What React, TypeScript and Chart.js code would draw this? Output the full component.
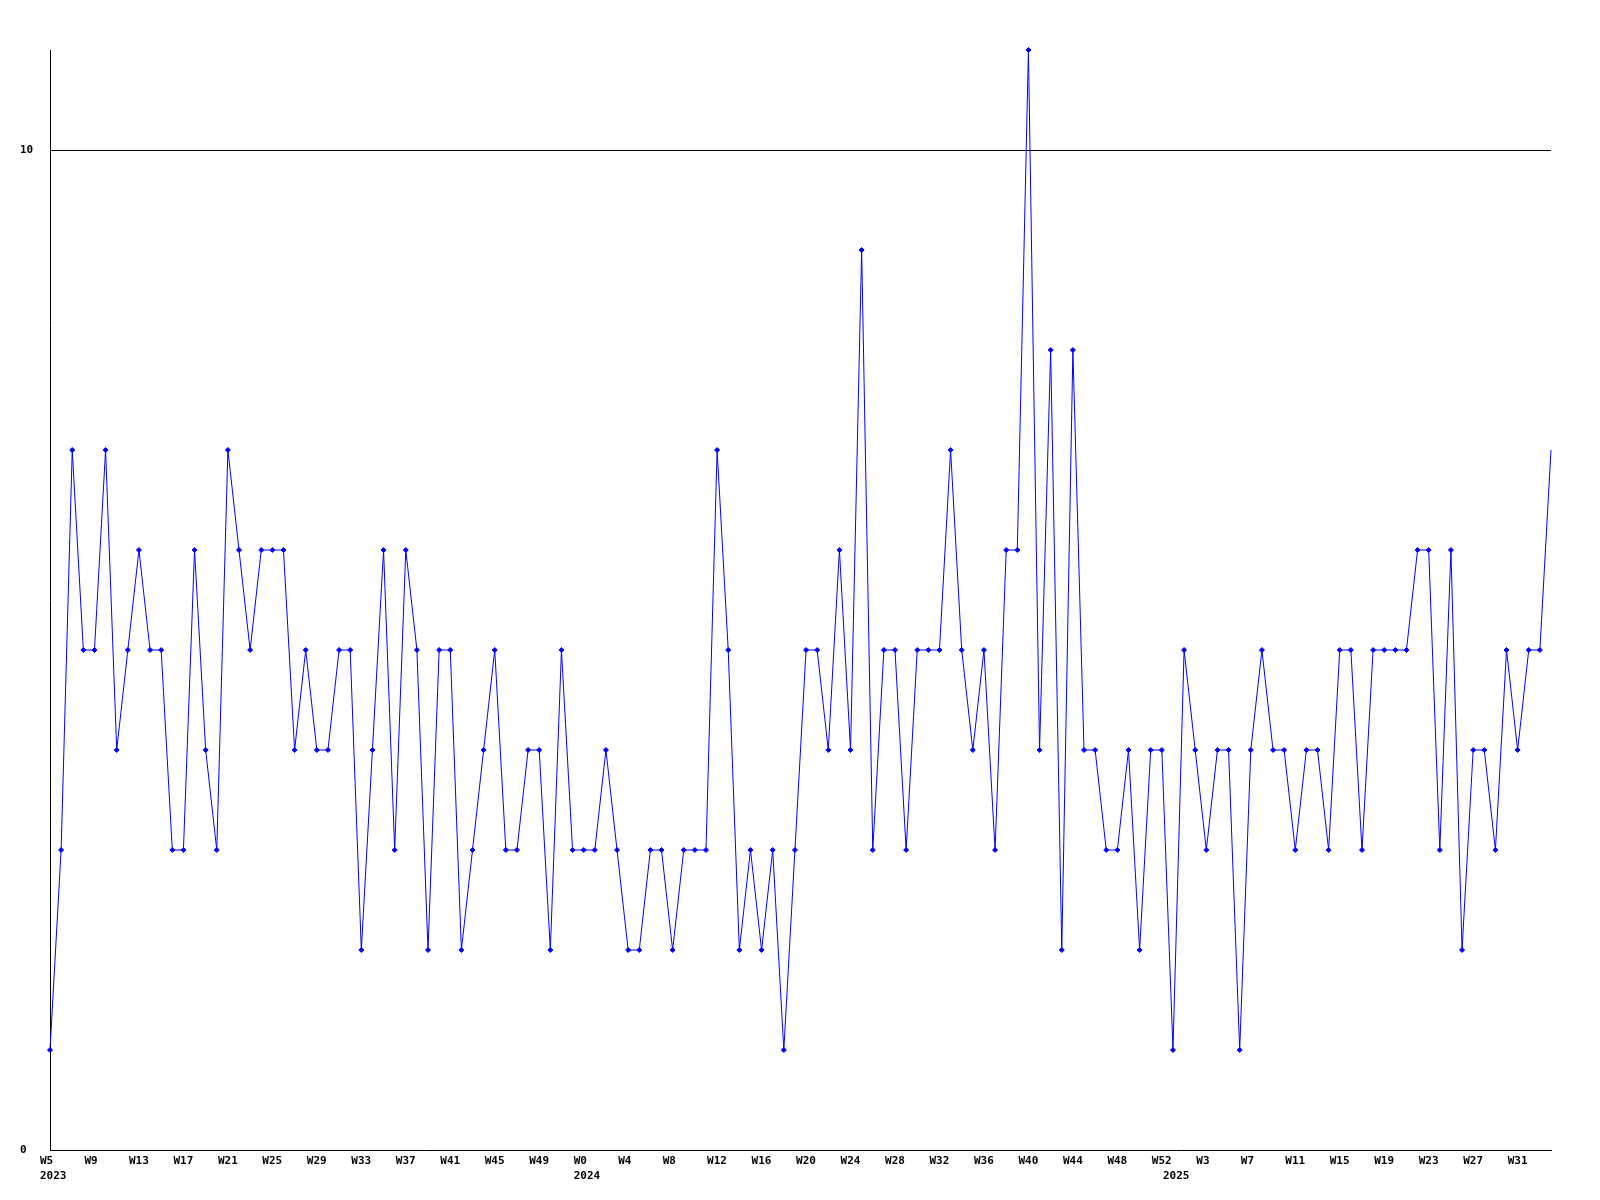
import React, { useEffect, useRef } from 'react';
import { Chart, registerables } from 'chart.js';

Chart.register(...registerables);

// Categories (ISO-style week labels per year)
const weeks2023 = ['W5','W6','W7','W8','W9','W10','W11','W12','W13','W14','W15','W16','W17','W18','W19','W20','W21','W22','W23','W24','W25','W26','W27','W28','W29','W30','W31','W32','W33','W34','W35','W36','W37','W38','W39','W40','W41','W42','W43','W44','W45','W46','W47','W48','W49','W50','W51','W52'];
const weeks2024 = ['W0','W1','W2','W3','W4','W5','W6','W7','W8','W9','W10','W11','W12','W13','W14','W15','W16','W17','W18','W19','W20','W21','W22','W23','W24','W25','W26','W27','W28','W29','W30','W31','W32','W33','W34','W35','W36','W37','W38','W39','W40','W41','W42','W43','W44','W45','W46','W47','W48','W49','W50','W51','W52'];
const weeks2025 = ['W0','W1','W2','W3','W4','W5','W6','W7','W8','W9','W10','W11','W12','W13','W14','W15','W16','W17','W18','W19','W20','W21','W22','W23','W24','W25','W26','W27','W28','W29','W30','W31','W32','W33','W34'];
const yearLabels = ['2023', '2024', '2025'];

// Series values
const values = [
  1, 3, 7, 5, 5, 7, 4, 5, 6, 5,
  5, 3, 3, 6, 4, 3, 7, 6, 5, 6,
  6, 6, 4, 5, 4, 4, 5, 5, 2, 4,
  6, 3, 6, 5, 2, 5, 5, 2, 3, 4,
  5, 3, 3, 4, 4, 2, 5, 3, 3, 3,
  4, 3, 2, 2, 3, 3, 2, 3, 3, 3,
  7, 5, 2, 3, 2, 3, 1, 3, 5, 5,
  4, 6, 4, 9, 3, 5, 5, 3, 5, 5,
  5, 7, 5, 4, 5, 3, 6, 6, 11, 4,
  8, 2, 8, 4, 4, 3, 3, 4, 2, 4,
  4, 1, 5, 4, 3, 4, 4, 1, 4, 5,
  4, 4, 3, 4, 4, 3, 5, 5, 3, 5,
  5, 5, 5, 6, 6, 3, 6, 2, 4, 4,
  3, 5, 4, 5, 5, 7,
];

// Y tick values shown
const yTicks = [0, 10];
const yMax = 11;
const labelEvery = 4;

const weekGroups = [weeks2023, weeks2024, weeks2025];
const categories: string[] = [];
const yearAtIndex: Record<number, string> = {};
weekGroups.forEach((group, gi) => {
  yearAtIndex[categories.length] = yearLabels[gi];
  group.forEach((w) => categories.push(w));
});

const FONT = { family: '"DejaVu Sans Mono", monospace', size: 11, weight: 'bold' as const, lineHeight: '15px' };

export default function App() {
  const canvasRef = useRef<HTMLCanvasElement | null>(null);

  useEffect(() => {
    if (!canvasRef.current) return;
    const lastIndex = values.length - 1;
    const chart = new Chart(canvasRef.current, {
      type: 'line',
      data: {
        labels: categories,
        datasets: [
          {
            data: values,
            borderColor: '#0000ff',
            backgroundColor: '#0000ff',
            borderWidth: 1,
            tension: 0,
            fill: false,
            clip: false as any,
            pointStyle: 'rectRot',
            pointRadius: (ctx: any) => (ctx.dataIndex === lastIndex ? 0 : 2.5),
            pointBorderWidth: 1,
            pointBorderColor: '#0000ff',
            pointBackgroundColor: '#0000ff',
          },
        ],
      },
      options: {
        responsive: false,
        animation: false,
        devicePixelRatio: 1,
        layout: { padding: { left: 20, top: 50, right: 49, bottom: 0 } },
        plugins: {
          legend: { display: false },
          tooltip: { enabled: false },
        },
        scales: {
          x: {
            type: 'category',
            offset: false,
            grid: { display: false, drawTicks: false },
            border: { display: true, color: '#000000', width: 1 },
            afterFit: (scale: any) => {
              scale.height = 50;
            },
            ticks: {
              autoSkip: false,
              maxRotation: 0,
              minRotation: 0,
              align: 'start',
              labelOffset: -10,
              padding: 4,
              color: '#000000',
              font: FONT,
              callback: (_v: any, index: number) => {
                const wk = index % labelEvery === 0 ? categories[index] : '';
                const yr = yearAtIndex[index];
                if (yr) return [wk, yr];
                return wk;
              },
            },
          },
          y: {
            min: 0,
            max: yMax,
            grid: {
              drawTicks: false,
              color: (ctx: any) => (ctx.tick && ctx.tick.value === 10 ? '#000000' : 'rgba(0,0,0,0)'),
              lineWidth: 1,
            },
            border: { display: true, color: '#000000', width: 1 },
            afterFit: (scale: any) => {
              scale.width = 30;
            },
            afterBuildTicks: (scale: any) => {
              scale.ticks = yTicks.map((v) => ({ value: v }));
            },
            ticks: {
              crossAlign: 'far',
              padding: 4,
              color: '#000000',
              font: FONT,
              callback: (v: any) => String(v),
            },
          },
        },
      } as any,
    });
    return () => chart.destroy();
  }, []);

  return (
    <canvas
      ref={canvasRef}
      width={1600}
      height={1200}
      style={{ position: 'absolute', left: 0, top: 0, width: 1600, height: 1200, display: 'block' }}
    />
  );
}
